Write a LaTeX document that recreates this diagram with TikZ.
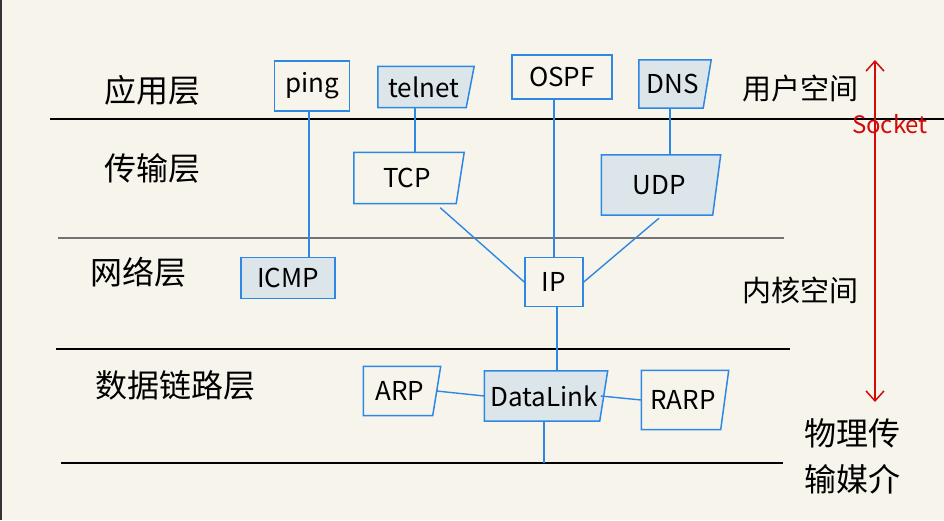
\documentclass[tikz,border=0pt]{standalone}
\usepackage{fontspec}
\setmainfont{Noto Sans CJK SC}
\usetikzlibrary{arrows.meta,positioning,calc,backgrounds}
\definecolor{paper}{RGB}{247,245,235}
\definecolor{linkblue}{RGB}{45,135,228}
\definecolor{boxfill}{RGB}{220,229,234}
\definecolor{sockred}{RGB}{210,10,10}
% outline with the right side leaning in at the bottom
\newcommand{\slantbox}[2]{%
  \draw[draw=linkblue,line width=1.5pt,#2] (#1.north west) -- ([xshift=4pt]#1.north east)
    -- ([xshift=-4pt]#1.south east) -- (#1.south west) -- cycle;}

\begin{document}
\begin{tikzpicture}[x=1pt,y=-1pt,
  proto/.style={inner sep=2pt,font=\fontsize{26}{26}\selectfont},
  framed/.style={proto,draw=linkblue,line width=1.5pt},
  filled/.style={fill=boxfill},
  link/.style={linkblue,line width=1.4pt},
  layer/.style={font=\fontsize{32}{32}\selectfont},
  space/.style={font=\fontsize{29}{29}\selectfont}]
  \useasboundingbox (0,0) rectangle (944,520);
  \draw[black!80,line width=2.5pt] (1,0) -- (1,520);
  % layer separators
  \foreach \y/\a/\b/\c in {119/50/944/black, 238/58/784/black!55, 349/56/790/black, 463/61/783/black}
    \draw[\c,line width=1.8pt] (\a,\y) -- (\b,\y);
  \coordinate (phy) at (61,463);
  % layer names
  \node[layer] (app) at (152,90) {应用层};
  \node[layer] (trans) at (152,168) {传输层};
  \node[layer] (net) at (138,272) {网络层};
  \node[layer] (dl) at (175,385) {数据链路层};
  % protocols
  \node[framed,minimum width=75pt,minimum height=50pt] (ping) at (312,86) {ping};
  \node[proto,minimum width=92pt,minimum height=41pt] (telnet) at (424,87) {telnet};
  \node[framed,minimum width=100pt,minimum height=44pt] (ospf) at (562,77) {OSPF};
  \node[proto,minimum width=68pt,minimum height=48pt] (dns) at (673,84) {DNS};
  \node[proto,minimum width=106pt,minimum height=51pt] (tcp) at (407,178) {TCP};
  \node[proto,minimum width=115pt,minimum height=60pt] (udp) at (659,185) {UDP};
  \node[framed,filled,minimum width=94pt,minimum height=41pt] (icmp) at (288,278) {ICMP};
  \node[framed,minimum width=58pt,minimum height=49pt] (ip) at (554,282) {IP};
  \node[proto,minimum width=73pt,minimum height=49pt] (arp) at (400,391) {ARP};
  \node[proto,minimum width=119pt,minimum height=50pt] (datalink) at (544,396) {DataLink};
  \node[proto,minimum width=83pt,minimum height=59pt] (rarp) at (683,400) {RARP};
  \begin{scope}[on background layer]
    \fill[paper] (0,0) rectangle (944,520);
    \foreach \n in {telnet,dns,udp,datalink} \slantbox{\n}{fill=boxfill};
    \foreach \n in {tcp,arp,rarp} \slantbox{\n}{};
  \end{scope}
  % connections
  \draw[link] ([xshift=-3pt]ping.south) -- ([xshift=-3pt]ping.south |- icmp.north);
  \draw[link] ([xshift=-9pt]telnet.south) -- ([xshift=-9pt]telnet.south |- tcp.north);
  \draw[link] (ip.north |- ospf.south) -- (ip.north);
  \draw[link] ([xshift=-3pt]dns.south) -- ([xshift=-3pt]dns.south |- udp.north);
  \draw[link] ([xshift=-20pt,yshift=-4pt]tcp.south east) -- (ip.west);
  \draw[link] ([yshift=-3pt]udp.south) -- (ip.east);
  \draw[link] ([xshift=3pt]ip.south) -- ([xshift=3pt]ip.south |- datalink.north);
  \draw[link] (arp.east) -- (datalink.west);
  \draw[link] ([xshift=-3pt]datalink.east) -- (rarp.west);
  \draw[link] (datalink.south) -- (datalink.south |- phy);
  % spaces
  \node[space] (user) at (800,88) {用户空间};
  \node[space] (kernel) at (800,290) {内核空间};
  \node[space,align=center,font=\fontsize{32}{46}\selectfont] (media) at (852,456) {物理传\\输媒介};
  \coordinate (sockTop) at (875,60);
  \coordinate (sockBot) at (875,402);
  \draw[sockred,line width=1.5pt,{Straight Barb[length=10pt,width=18pt]}-{Straight Barb[length=10pt,width=18pt]}] (sockTop) -- (sockBot);
  \node[sockred,font=\fontsize{24}{24}\selectfont] (socket) at (890,124) {Socket};
\end{tikzpicture}
\end{document}
